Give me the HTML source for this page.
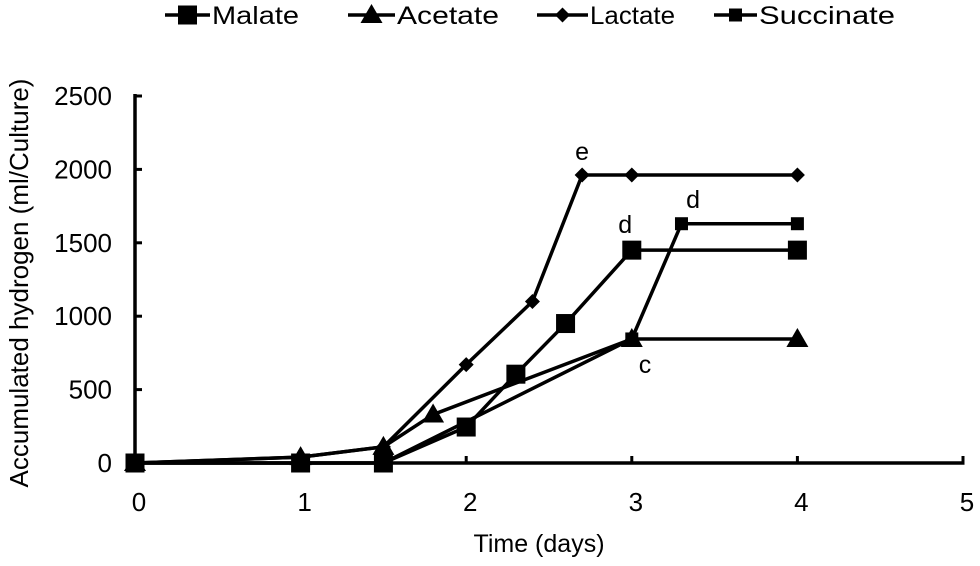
<!DOCTYPE html>
<html><head><meta charset="utf-8"><style>
body{margin:0;background:#fff}
svg text{font-family:"Liberation Sans",Arial,sans-serif;fill:#000}
</style></head><body>
<svg width="980" height="561">
<g id="axes"></g><g id="series"></g><g id="legend"></g>
<text x="28" y="283" font-size="26" text-anchor="middle" transform="rotate(-90 28 283)">Accumulated hydrogen (ml/Culture)</text>
<text x="539" y="552" font-size="25" text-anchor="middle">Time (days)</text>
</svg>
<script>
const seriesNames=["Malate","Acetate","Lactate","Succinate"];
const malateX=[0,1,1.5,2,2.3,2.6,3,4];
const malateY=[0,0,0,245,605,950,1450,1450];
const acetateX=[0,1,1.5,1.8,3,4];
const acetateY=[0,40,110,330,845,845];
const lactateX=[0,1,1.5,2,2.4,2.7,3,4];
const lactateY=[0,40,110,670,1100,1962,1962,1962];
const succinateX=[0,1,1.5,3,3.3,4];
const succinateY=[0,0,0,845,1630,1630];
const xTicks=[0,1,2,3,4,5];
const yTicks=[0,500,1000,1500,2000,2500];
const annotLabels=["e","d","d","c"];
const annotX=[2.70,2.96,3.37,3.08];
const annotY=[2064,1567,1737,613];
const NS="http://www.w3.org/2000/svg";
const X=v=>135+v*165.6, Y=v=>463-v*0.1468;
function mk(t,a,p){const e=document.createElementNS(NS,t);for(const k in a)e.setAttribute(k,a[k]);p.appendChild(e);return e;}
const ax=document.getElementById('axes'),sg=document.getElementById('series'),lg=document.getElementById('legend');
let l=mk('line',{x1:X(0),y1:Y(0),x2:X(5)+1.5,y2:Y(0),stroke:'#000','stroke-width':3.5},ax);


l=mk('line',{x1:X(0),y1:Y(0),x2:X(0),y2:Y(2500)-2,stroke:'#000','stroke-width':3.5},ax);


xTicks.forEach(t=>{mk('line',{x1:X(t),y1:Y(0),x2:X(t),y2:Y(0)-7,stroke:'#000','stroke-width':3},ax);
 const tx=mk('text',{x:X(t)+4,y:511,'font-size':26,'text-anchor':'middle'},ax);tx.textContent=t;
 
 });
yTicks.forEach(t=>{mk('line',{x1:X(0),y1:Y(t),x2:X(0)+7,y2:Y(t),stroke:'#000','stroke-width':3},ax);
 const tx=mk('text',{x:112,y:Y(t)+9,'font-size':26,'text-anchor':'end'},ax);tx.textContent=t;
 
 });
function marker(type,x,y,p){
 if(type==0)return mk('rect',{x:x-9.5,y:y-9.5,width:19,height:19},p);
 if(type==1)return mk('polygon',{points:`${x},${y-11} ${x+11},${y+8} ${x-11},${y+8}`},p);
 if(type==2)return mk('polygon',{points:`${x},${y-7.5} ${x+7.5},${y} ${x},${y+7.5} ${x-7.5},${y}`},p);
 return mk('rect',{x:x-6.5,y:y-6.5,width:13,height:13},p);
}
const data=[[malateX,malateY],[acetateX,acetateY],[lactateX,lactateY],[succinateX,succinateY]];
data.forEach((d,i)=>{
 const g=mk('g',{},sg);
 
 
 mk('polyline',{points:d[0].map((x,j)=>X(x)+','+Y(d[1][j])).join(' '),fill:'none',stroke:'#000','stroke-width':3.5,'stroke-linejoin':'round'},g);
 d[0].forEach((x,j)=>{const m=marker(i,X(x),Y(d[1][j]),g);
  
  });
});
annotLabels.forEach((s,i)=>{const t=mk('text',{x:X(annotX[i]),y:Y(annotY[i]),'font-size':25,'text-anchor':'middle'},sg);
 t.textContent=s;
 
 });
const lx=[165,348,537,714];
const lw=[45,47,51,43];
const tl=[87,102,85,136];
seriesNames.forEach((n,i)=>{
 const g=mk('g',{},lg);
 
 
 mk('line',{x1:lx[i],y1:15,x2:lx[i]+lw[i],y2:15,stroke:'#000','stroke-width':3.5},g);
 marker(i,lx[i]+lw[i]/2,15,g);
 const t=mk('text',{x:lx[i]+lw[i]+2,y:24,'font-size':25,textLength:tl[i],lengthAdjust:'spacingAndGlyphs'},g);t.textContent=n;
});
</script>
</body></html>
